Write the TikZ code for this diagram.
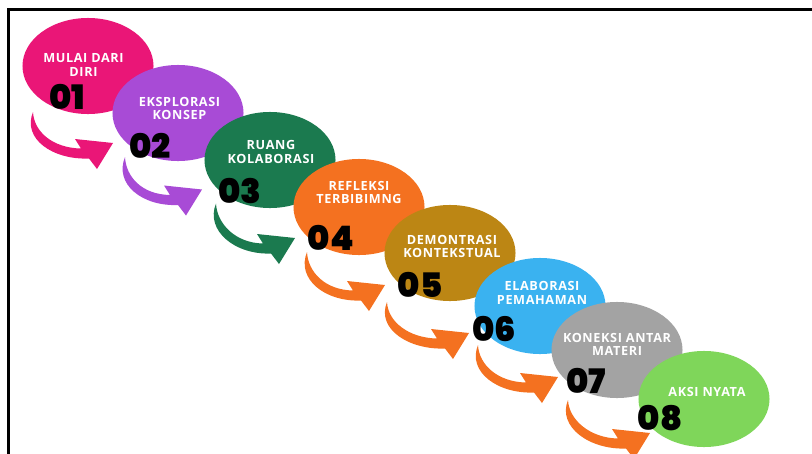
\documentclass[tikz,border=0pt]{standalone}
\usepackage{fontspec}
\setmainfont{Open Sans}
\newfontfamily\numfont{Poppins}[UprightFont=* Black]
\usetikzlibrary{calc,shapes.geometric}

\definecolor{cpink}{HTML}{EA1677}
\definecolor{cpurple}{HTML}{A84BD6}
\definecolor{cgreen}{HTML}{1B7A4F}
\definecolor{corange}{HTML}{F47120}
\definecolor{cgold}{HTML}{BC8614}
\definecolor{cblue}{HTML}{3AB2F0}
\definecolor{cgrey}{HTML}{A3A3A3}
\definecolor{clime}{HTML}{7FD65A}

\tikzset{
  stage/.style={ellipse, minimum width=3.275cm, minimum height=2.4cm, inner sep=0pt},
  stagetext/.style={text=white, align=center, inner sep=0pt,
    font=\fontsize{9}{9.7}\selectfont\bfseries\addfontfeatures{LetterSpace=5}},
  stagenum/.style={text=black, inner sep=0pt, font=\numfont\fontsize{24}{24}\selectfont}
}

\begin{document}
\begin{tikzpicture}[x=0.025cm, y=-0.025cm]
  \useasboundingbox (0,0) rectangle (812,454);
  \draw[line width=1.8pt] (8.7,454) -- (8.7,9.5) -- (812,9.5);

  % the eight stages, each one on top of the one before
  \node[stage, fill=cpink]   (e1) at (88,66)   {};
  \node[stage, fill=cpurple] (e2) at (178,113) {};
  \node[stage, fill=cgreen]  (e3) at (270,160) {};
  \node[stage, fill=corange] (e4) at (359,207) {};
  \node[stage, fill=cgold]   (e5) at (450,253) {};
  \node[stage, fill=cblue]   (e6) at (540,306) {};
  \node[stage, fill=cgrey]   (e7) at (617,350) {};
  \node[stage, fill=clime]   (e8) at (704,399) {};

  % curved arrows, thin at the tail
  \foreach \i/\j/\c/\sx/\sy/\tx/\ty in {
      1/2/cpink/-55/46/-65/30,
      2/3/cpurple/-53/44/-68/29.5,
      3/4/cgreen/-54/43.5/-64/31,
      4/5/corange/-52/45/-65/32,
      5/6/corange/-63/49/-71/27,
      6/7/corange/-62/39/-59/27,
      7/8/corange/-49/50/-54/34} {
    \coordinate (s\i) at ($(e\i)+(\sx,\sy)$);
    \coordinate (t\i) at ($(e\j)+(\tx,\ty)$);
    \fill[\c] (s\i) .. controls +(-11,27) and +(-36,1.5) .. ($(t\i)+(-24,15.5)$)
      -- ($(t\i)+(-16,26)$) -- (t\i) -- ($(t\i)+(-38,-4)$) -- ($(t\i)+(-32,5.5)$)
      .. controls +(-28,-0.5) and +(1,20) .. (s\i) -- cycle;
  }

  \node[stagetext] (l1) at ($(e1)+(-4.5,-1)$) {MULAI DARI\\DIRI};
  \node[stagetext] (l2) at ($(e2)+(1.5,-4.5)$) {EKSPLORASI\\KONSEP};
  \node[stagetext] (l3) at ($(e3)+(1,-8)$)     {RUANG\\KOLABORASI};
  \node[stagetext] (l4) at ($(e4)+(0,-14.5)$)  {REFLEKSI\\TERBIBIMNG};
  \node[stagetext] (l5) at ($(e5)+(2,-6.5)$)   {DEMONTRASI\\KONTEKSTUAL};
  \node[stagetext] (l6) at ($(e6)+(2,-13)$)    {ELABORASI\\PEMAHAMAN};
  \node[stagetext] (l7) at ($(e7)+(0,-5.5)$)   {KONEKSI ANTAR\\MATERI};
  \node[stagetext] (l8) at ($(e8)+(3,-7)$)     {AKSI NYATA};

  \node[stagenum] (n1) at ($(e1)+(-21,31)$)   {01};
  \node[stagenum] (n2) at ($(e2)+(-28,33)$)   {02};
  \node[stagenum] (n3) at ($(e3)+(-30,31.5)$) {03};
  \node[stagenum] (n4) at ($(e4)+(-28,31)$)   {04};
  \node[stagenum] (n5) at ($(e5)+(-30,32)$)   {05};
  \node[stagenum] (n6) at ($(e6)+(-46,23)$)   {06};
  \node[stagenum] (n7) at ($(e7)+(-31,31)$)   {07};
  \node[stagenum] (n8) at ($(e8)+(-44,19)$)   {08};
\end{tikzpicture}
\end{document}
